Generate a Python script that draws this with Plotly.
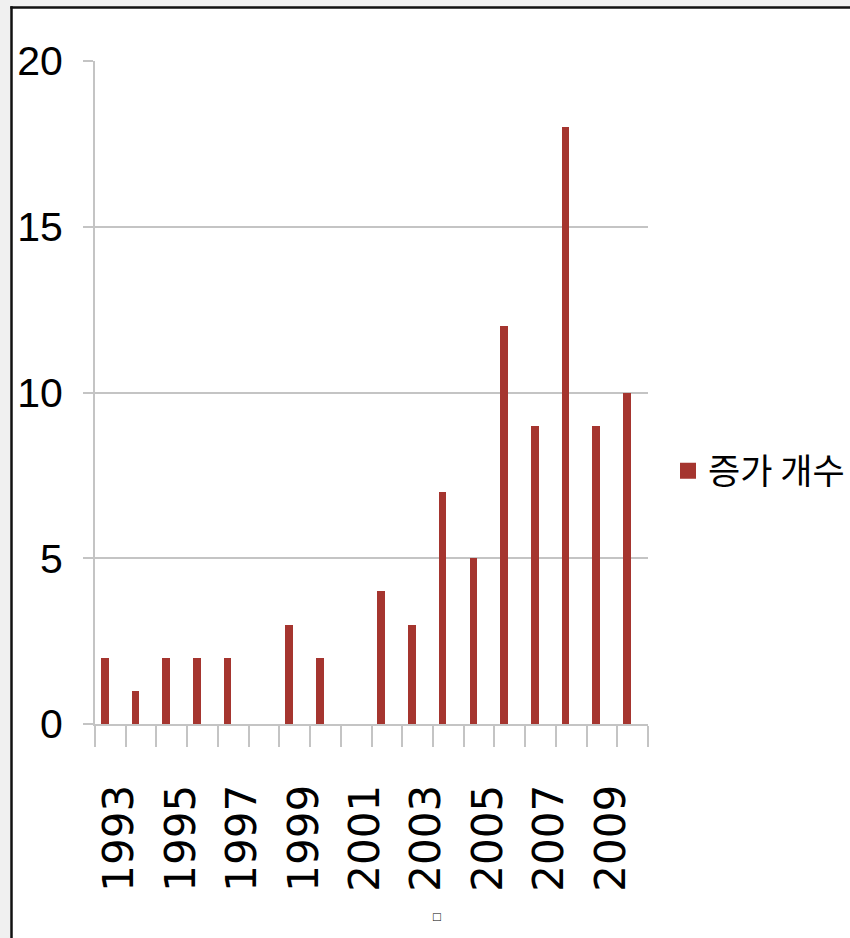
import plotly.graph_objects as go

years = list(range(1993, 2011))
counts = [2, 1, 2, 2, 2, 0, 3, 2, 0, 4, 3, 7, 5, 12, 9, 18, 9, 10]
label_years = [1993, 1995, 1997, 1999, 2001, 2003, 2005, 2007, 2009]
series_name = "증가 개수"
y_ticks = [0, 5, 10, 15, 20]

W, H = 850, 938
L, R, T, B = 95, 202, 61, 214
pw, ph = W - L - R, H - T - B

def px_x(p):
    return (p - L) / pw

def px_y(p):
    return (H - B - p) / ph

bar_color = "#A5352F"
grid = "#C4C4C4"

fig = go.Figure()
fig.add_trace(go.Bar(
    x=years, y=counts, name=series_name, legendgroup="s",
    marker=dict(color=bar_color, line=dict(width=0)),
    width=0.25, offset=-0.31, showlegend=False,
))
# legend entry (square swatch) for the series
fig.add_trace(go.Scatter(
    x=years, y=[None] * len(years), name=series_name, legendgroup="s",
    mode="markers", marker=dict(symbol="square", size=20, color=bar_color, line=dict(width=0)),
    showlegend=True, hoverinfo="skip",
))
# invisible helper trace for the label axis
fig.add_trace(go.Scatter(x=years, y=[None] * len(years), xaxis="x2",
                         showlegend=False, hoverinfo="skip"))

x_range = [years[0] - 0.5, years[-1] + 0.5]
boundaries = [y - 0.5 for y in years] + [years[-1] + 0.5]

fig.update_layout(
    width=W, height=H, autosize=False,
    margin=dict(l=L, r=R, t=T, b=B, autoexpand=False),
    paper_bgcolor="#F0F0F0",
    plot_bgcolor="white",
    bargap=0,
    xaxis=dict(
        range=x_range, tickvals=boundaries, ticktext=[""] * len(boundaries),
        ticks="outside", ticklen=21, tickwidth=2, tickcolor=grid,
        showgrid=False, zeroline=False, showline=True, linecolor=grid, linewidth=2,
        automargin=False,
    ),
    xaxis2=dict(
        range=x_range, overlaying="x", anchor="y", side="bottom",
        tickvals=[y + 0.3 for y in label_years], ticktext=[str(y) for y in label_years],
        tickangle=-90, ticks="outside", ticklen=43, tickcolor="rgba(0,0,0,0)",
        tickfont=dict(family="DejaVu Sans", size=42, color="black"),
        showgrid=False, zeroline=False, showline=False, automargin=False,
    ),
    yaxis=dict(
        range=[0, 20], tickvals=y_ticks,
        ticks="outside", ticklen=10, tickwidth=2, tickcolor=grid,
        showgrid=True, gridcolor=grid, gridwidth=2,
        zeroline=False, showline=True, linecolor=grid, linewidth=2,
        tickfont=dict(family="Liberation Sans, Arial, sans-serif", size=41, color="black"),
        ticklabelstandoff=12, automargin=False,
    ),
    legend=dict(
        x=px_x(668), y=px_y(471), xanchor="left", yanchor="middle",
        font=dict(family="Noto Sans CJK KR", size=35, color="black"),
        bgcolor="rgba(0,0,0,0)", itemwidth=30, borderwidth=0,
    ),
    shapes=[
        dict(type="rect", xref="paper", yref="paper", layer="below",
             x0=px_x(11.5), x1=px_x(W), y0=px_y(H), y1=px_y(7.5),
             fillcolor="white", line=dict(width=0)),
        dict(type="line", xref="paper", yref="paper", layer="above",
             x0=px_x(11.5), x1=px_x(11.5), y0=px_y(H), y1=px_y(6.3),
             line=dict(color="#111111", width=2.5)),
        dict(type="line", xref="paper", yref="paper", layer="above",
             x0=px_x(10.3), x1=px_x(W), y0=px_y(7.5), y1=px_y(7.5),
             line=dict(color="#111111", width=2.5)),
    ],
    annotations=[dict(
        text="□", xref="paper", yref="paper", x=px_x(437), y=px_y(927),
        showarrow=False, font=dict(size=13, color="black"),
    )],
)

fig.write_html(
    "out.html",
    config={"displayModeBar": False},
    post_script=(
        "document.documentElement.style.margin='0';"
        "document.documentElement.style.overflow='hidden';"
        "document.body.style.margin='0';"
        "document.body.style.background='#F0F0F0';"
        "document.body.style.overflow='hidden';"
    ),
)
